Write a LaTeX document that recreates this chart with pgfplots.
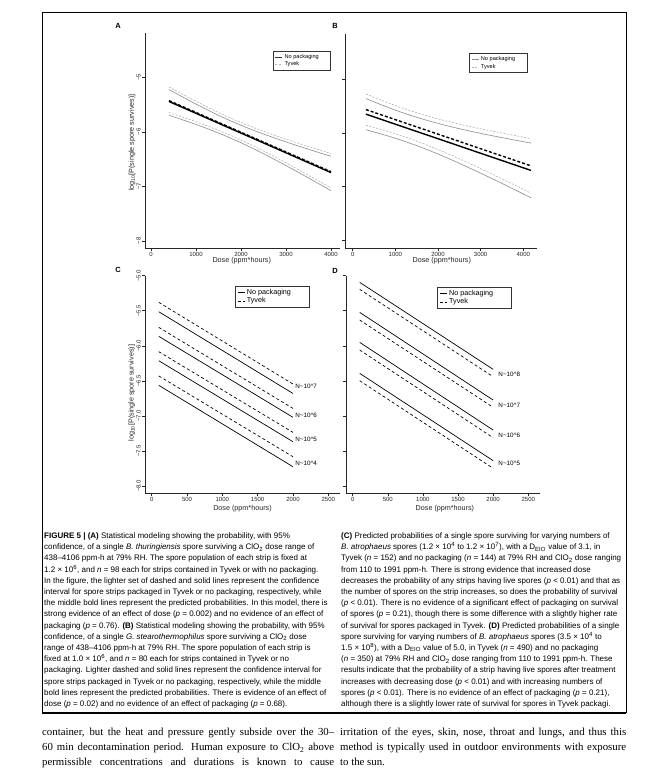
\documentclass[border=0pt]{standalone}
\usepackage{pgfplots}
\pgfplotsset{compat=1.18}
\usepackage{fontspec}
\setmainfont{Liberation Sans}
\newfontfamily\bodyserif{Liberation Serif}
\definecolor{cigray}{gray}{0.55}
\definecolor{cigrayl}{gray}{0.70}
\newcommand\tfs{\fontsize{6.0}{7}\selectfont}
\newcommand\capfs{\fontsize{8}{9}\selectfont}
\pgfplotsset{
 rpanel/.style={
  scale only axis, clip=false,
  axis x line=bottom, axis y line=left,
  axis line style={-, line width=0.5pt, black!85},
  tick align=outside, major tick length=3pt,
  tick style={line width=0.5pt, black!85},
  every tick label/.append style={font=\tfs, text=black!85},
  xticklabel style={inner sep=1pt},
  yticklabel style={rotate=90, anchor=south, inner sep=1pt},
  label style={font=\fontsize{7.2}{8}\selectfont, text=black!85},
  legend cell align=left,
  legend style={draw=black!80, line width=0.4pt, inner xsep=2pt, inner ysep=1pt, row sep=-2pt, anchor=north west, font=\fontsize{6.2}{6.5}\selectfont},
  legend image code/.code={\draw[#1] (0pt,0pt) -- (7pt,0pt);},
 },
 midN/.style={black, line width=1.4pt, smooth},
 midT/.style={black, line width=1.4pt, dash pattern=on 3pt off 2pt, smooth},
 ciN/.style={cigray, line width=0.6pt, smooth},
 ciT/.style={cigrayl, line width=0.6pt, dash pattern=on 2pt off 1.5pt, smooth},
 lnN/.style={black, line width=0.7pt},
 lnT/.style={black, line width=0.7pt, dash pattern=on 3pt off 2.5pt},
}
\begin{document}
\begin{tikzpicture}[x=1pt,y=1pt]
\path[fill=white] (0,0) rectangle (668,780);
% frame
\draw[line width=0.6pt] (42,67) -- (42,768) -- (626,768) -- (626,67);
\draw[line width=1.8pt] (42,67) -- (626,67);
% panel letters
\node[font=\bfseries\fontsize{7.5}{8}\selectfont] at (118,754) {A};
\node[font=\bfseries\fontsize{7.5}{8}\selectfont] at (335,754) {B};
\node[font=\bfseries\fontsize{7.5}{8}\selectfont] at (118,510) {C};
\node[font=\bfseries\fontsize{7.5}{8}\selectfont] at (335,509) {D};

% ---------- A ----------
\begin{axis}[rpanel, at={(145pt,532pt)}, anchor=south west, width=195pt, height=215pt,
  xmin=-133, xmax=4200, ymin=-8.132, ymax=-4.187,
  xtick={0,1000,2000,3000,4000}, xticklabels={0,1000,2000,3000,4000},
  ytick={-8,-7,-6,-5}, yticklabels={−8,−7,−6,−5},
  xlabel={Dose (ppm*hours)}, ylabel={log\textsubscript{10}[P(single spore survives)]},
  xlabel style={at={(axis description cs:0.496,-0.059)}, anchor=center},
  ylabel style={at={(axis description cs:-0.067,0.49)}, anchor=center},
  legend style={at={(0.656,0.916)}, font=\fontsize{5.6}{6}\selectfont}]
\addlegendimage{black!80, line width=0.5pt}
\addlegendentry{\makebox[42pt][l]{No packaging}}
\addlegendimage{cigrayl, line width=0.5pt, dash pattern=on 2pt off 1.5pt}
\addlegendentry{\makebox[42pt][l]{Tyvek}}
\addplot[ciT, forget plot] coordinates {(400,-5.176) (1000,-5.441) (1600,-5.686) (2200,-5.897) (2800,-6.079) (3400,-6.244) (4000,-6.400)};
\addplot[ciN, forget plot] coordinates {(400,-5.226) (1000,-5.491) (1600,-5.736) (2200,-5.947) (2800,-6.129) (3400,-6.294) (4000,-6.450)};
\addplot[ciT, forget plot] coordinates {(400,-5.646) (1000,-5.815) (1600,-6.006) (2200,-6.229) (2800,-6.481) (3400,-6.751) (4000,-7.030)};
\addplot[ciN, forget plot] coordinates {(400,-5.696) (1000,-5.865) (1600,-6.056) (2200,-6.279) (2800,-6.531) (3400,-6.801) (4000,-7.080)};
\addplot[midN, forget plot] coordinates {(400,-5.444) (1000,-5.661) (1600,-5.879) (2200,-6.096) (2800,-6.313) (3400,-6.531) (4000,-6.748)};
\addplot[midT, forget plot] coordinates {(400,-5.428) (1000,-5.645) (1600,-5.863) (2200,-6.080) (2800,-6.297) (3400,-6.515) (4000,-6.732)};
\end{axis}

% ---------- B ----------
\begin{axis}[rpanel, at={(345pt,532pt)}, anchor=south west, width=192pt, height=214pt,
  xmin=-180, xmax=4321, ymin=-8.147, ymax=-4.155,
  xtick={0,1000,2000,3000,4000}, xticklabels={0,1000,2000,3000,4000},
  ytick={-8,-7,-6,-5}, yticklabels={,,,},
  xlabel={Dose (ppm*hours)},
  xlabel style={at={(axis description cs:0.504,-0.059)}, anchor=center},
  legend style={at={(0.647,0.91)}, font=\fontsize{5.6}{6}\selectfont}]
\addlegendimage{cigray, line width=0.5pt}
\addlegendentry{\makebox[42pt][l]{No packaging}}
\addlegendimage{cigrayl, line width=0.5pt, dash pattern=on 2pt off 1.5pt}
\addlegendentry{\makebox[42pt][l]{Tyvek}}
\addplot[ciT, forget plot] coordinates {(310,-5.274) (950,-5.476) (1600,-5.648) (2250,-5.789) (2900,-5.907) (3550,-6.011) (4180,-6.105)};
\addplot[ciN, forget plot] coordinates {(310,-5.359) (950,-5.561) (1600,-5.733) (2250,-5.874) (2900,-5.992) (3550,-6.096) (4180,-6.190)};
\addplot[ciT, forget plot] coordinates {(310,-5.856) (950,-6.002) (1600,-6.182) (2250,-6.394) (2900,-6.629) (3550,-6.877) (4180,-7.125)};
\addplot[ciN, forget plot] coordinates {(310,-5.941) (950,-6.087) (1600,-6.267) (2250,-6.479) (2900,-6.714) (3550,-6.962) (4180,-7.210)};
\addplot[midN, forget plot] coordinates {(310,-5.650) (950,-5.824) (1600,-6.000) (2250,-6.176) (2900,-6.353) (3550,-6.529) (4180,-6.700)};
\addplot[midT, forget plot] coordinates {(310,-5.565) (950,-5.739) (1600,-5.915) (2250,-6.091) (2900,-6.268) (3550,-6.444) (4180,-6.615)};
\end{axis}

% ---------- C ----------
\begin{axis}[rpanel, at={(145pt,286.7pt)}, anchor=south west, width=195pt, height=217.6pt,
  xmin=-95, xmax=2666, ymin=-8.104, ymax=-5.0,
  xtick={0,500,1000,1500,2000,2500}, xticklabels={0,500,1000,1500,2000,2500},
  ytick={-8,-7.5,-7,-6.5,-6,-5.5,-5}, yticklabels={−8.0,−7.5,−7.0,−6.5,−6.0,−5.5,−5.0},
  xlabel={Dose (ppm*hours)}, ylabel={log\textsubscript{10}[P(single spore survives)]},
  xlabel style={at={(axis description cs:0.5,-0.069)}, anchor=center},
  ylabel style={at={(axis description cs:-0.068,0.46)}, anchor=center},
  legend style={at={(0.4615,0.954)}, font=\fontsize{7.2}{7.5}\selectfont}]
\addlegendimage{lnN}
\addlegendentry{\makebox[58pt][l]{No packaging}}
\addlegendimage{lnT}
\addlegendentry{\makebox[58pt][l]{Tyvek}}
\addplot[lnT, forget plot] coordinates {(100,-5.380) (2000,-6.545)};
\addplot[lnN, forget plot] coordinates {(100,-5.514) (2000,-6.680)};
\addplot[lnT, forget plot] coordinates {(100,-5.737) (2000,-6.893)};
\addplot[lnN, forget plot] coordinates {(100,-5.865) (2000,-7.020)};
\addplot[lnT, forget plot] coordinates {(100,-6.084) (2000,-7.235)};
\addplot[lnN, forget plot] coordinates {(100,-6.213) (2000,-7.368)};
\addplot[lnT, forget plot] coordinates {(100,-6.430) (2000,-7.582)};
\addplot[lnN, forget plot] coordinates {(100,-6.564) (2000,-7.725)};
\node[anchor=west, inner sep=0pt, font=\fontsize{6.3}{7}\selectfont] at (axis cs:2030,-6.583) {N\textasciitilde10\textasciicircum7};
\node[anchor=west, inner sep=0pt, font=\fontsize{6.3}{7}\selectfont] at (axis cs:2030,-6.987) {N\textasciitilde10\textasciicircum6};
\node[anchor=west, inner sep=0pt, font=\fontsize{6.3}{7}\selectfont] at (axis cs:2030,-7.330) {N\textasciitilde10\textasciicircum5};
\node[anchor=west, inner sep=0pt, font=\fontsize{6.3}{7}\selectfont] at (axis cs:2030,-7.676) {N\textasciitilde10\textasciicircum4};
\end{axis}

% ---------- D ----------
\begin{axis}[rpanel, at={(346pt,286.7pt)}, anchor=south west, width=194pt, height=217.6pt,
  xmin=-95, xmax=2667, ymin=-8.104, ymax=-5.0,
  xtick={0,500,1000,1500,2000,2500}, xticklabels={0,500,1000,1500,2000,2500},
  ytick={-8,-7.5,-7,-6.5,-6,-5.5,-5}, yticklabels={,,,,,,},
  xlabel={Dose (ppm*hours)},
  xlabel style={at={(axis description cs:0.51,-0.069)}, anchor=center},
  legend style={at={(0.4706,0.949)}, font=\fontsize{7.2}{7.5}\selectfont}]
\addlegendimage{lnN}
\addlegendentry{\makebox[58pt][l]{No packaging}}
\addlegendimage{lnT}
\addlegendentry{\makebox[58pt][l]{Tyvek}}
\addplot[lnN, forget plot] coordinates {(100,-5.095) (2000,-6.336)};
\addplot[lnT, forget plot] coordinates {(100,-5.195) (2000,-6.441)};
\addplot[lnN, forget plot] coordinates {(100,-5.523) (2000,-6.774)};
\addplot[lnT, forget plot] coordinates {(100,-5.632) (2000,-6.878)};
\addplot[lnN, forget plot] coordinates {(100,-5.951) (2000,-7.202)};
\addplot[lnT, forget plot] coordinates {(100,-6.060) (2000,-7.311)};
\addplot[lnN, forget plot] coordinates {(100,-6.393) (2000,-7.639)};
\addplot[lnT, forget plot] coordinates {(100,-6.498) (2000,-7.748)};
\node[anchor=west, inner sep=0pt, font=\fontsize{6.3}{7}\selectfont] at (axis cs:2073,-6.402) {N\textasciitilde10\textasciicircum8};
\node[anchor=west, inner sep=0pt, font=\fontsize{6.3}{7}\selectfont] at (axis cs:2073,-6.849) {N\textasciitilde10\textasciicircum7};
\node[anchor=west, inner sep=0pt, font=\fontsize{6.3}{7}\selectfont] at (axis cs:2073,-7.282) {N\textasciitilde10\textasciicircum6};
\node[anchor=west, inner sep=0pt, font=\fontsize{6.3}{7}\selectfont] at (axis cs:2073,-7.676) {N\textasciitilde10\textasciicircum5};
\end{axis}

% ---------- caption ----------
\begin{scope}[every node/.style={anchor=base west, inner sep=0pt, font=\capfs}]
\node at (44,241.5) {\textbf{FIGURE 5 | (A)} Statistical modeling showing the probability, with 95\%};
\node at (44,230.3) {confidence, of a single \textit{B. thuringiensis} spore surviving a ClO\textsubscript{2} dose range of};
\node at (44,219.1) {438–4106 ppm-h at 79\% RH. The spore population of each strip is fixed at};
\node at (44,207.9) {1.2 × 10\textsuperscript{6}, and \textit{n} = 98 each for strips contained in Tyvek or with no packaging.};
\node at (44,196.7) {In the figure, the lighter set of dashed and solid lines represent the confidence};
\node at (44,185.5) {interval for spore strips packaged in Tyvek or no packaging, respectively, while};
\node at (44,174.3) {the middle bold lines represent the predicted probabilities. In this model, there is};
\node at (44,163.1) {strong evidence of an effect of dose (\textit{p} = 0.002) and no evidence of an effect of};
\node at (44,151.9) {packaging (\textit{p} = 0.76). \textbf{(B)} Statistical modeling showing the probability, with 95\%};
\node at (44,140.7) {confidence, of a single \textit{G. stearothermophilus} spore surviving a ClO\textsubscript{2} dose};
\node at (44,129.5) {range of 438–4106 ppm-h at 79\% RH. The spore population of each strip is};
\node at (44,118.3) {fixed at 1.0 × 10\textsuperscript{6}, and \textit{n} = 80 each for strips contained in Tyvek or no};
\node at (44,107.1) {packaging. Lighter dashed and solid lines represent the confidence interval for};
\node at (44,95.9) {spore strips packaged in Tyvek or no packaging, respectively, while the middle};
\node at (44,84.7) {bold lines represent the predicted probabilities. There is evidence of an effect of};
\node at (44,73.5) {dose (\textit{p} = 0.02) and no evidence of an effect of packaging (\textit{p} = 0.68).};
%
\node at (341,241.5) {\textbf{(C)} Predicted probabilities of a single spore surviving for varying numbers of};
\node at (341,230.3) {\textit{B. atrophaeus} spores (1.2 × 10\textsuperscript{4} to 1.2 × 10\textsuperscript{7}), with a D\textsubscript{EIO} value of 3.1, in};
\node at (341,219.1) {Tyvek (\textit{n} = 152) and no packaging (\textit{n} = 144) at 79\% RH and ClO\textsubscript{2} dose ranging};
\node at (341,207.9) {from 110 to 1991 ppm-h. There is strong evidence that increased dose};
\node at (341,196.7) {decreases the probability of any strips having live spores (\textit{p} < 0.01) and that as};
\node at (341,185.5) {the number of spores on the strip increases, so does the probability of survival};
\node at (341,174.3) {(\textit{p} < 0.01). There is no evidence of a significant effect of packaging on survival};
\node at (341,163.1) {of spores (\textit{p} = 0.21), though there is some difference with a slightly higher rate};
\node at (341,151.9) {of survival for spores packaged in Tyvek. \textbf{(D)} Predicted probabilities of a single};
\node at (341,140.7) {spore surviving for varying numbers of \textit{B. atrophaeus} spores (3.5 × 10\textsuperscript{4} to};
\node at (341,129.5) {1.5 × 10\textsuperscript{8}), with a D\textsubscript{EIO} value of 5.0, in Tyvek (\textit{n} = 490) and no packaging};
\node at (341,118.3) {(\textit{n} = 350) at 79\% RH and ClO\textsubscript{2} dose ranging from 110 to 1991 ppm-h. These};
\node at (341,107.1) {results indicate that the probability of a strip having live spores after treatment};
\node at (341,95.9) {increases with decreasing dose (\textit{p} < 0.01) and with increasing numbers of};
\node at (341,84.7) {spores (\textit{p} < 0.01). There is no evidence of an effect of packaging (\textit{p} = 0.21),};
\node at (341,73.5) {although there is a slightly lower rate of survival for spores in Tyvek packagi.};
\end{scope}

% ---------- body text ----------
\begin{scope}[every node/.style={anchor=base west, inner sep=0pt, font=\bodyserif\fontsize{10.8}{12}\selectfont}]
\node at (42,44) {\makebox[292pt][s]{container, but the heat and pressure gently subside over the 30–}};
\node at (42,29) {\makebox[292pt][s]{60 min decontamination period. Human exposure to ClO\textsubscript{2} above}};
\node at (42,14) {\makebox[292pt][s]{permissible concentrations and durations is known to cause}};
\node at (340,44) {\makebox[286pt][s]{irritation of the eyes, skin, nose, throat and lungs, and thus this}};
\node at (340,29) {\makebox[286pt][s]{method is typically used in outdoor environments with exposure}};
\node at (340,14) {to the sun.};
\end{scope}
\end{tikzpicture}
\end{document}
